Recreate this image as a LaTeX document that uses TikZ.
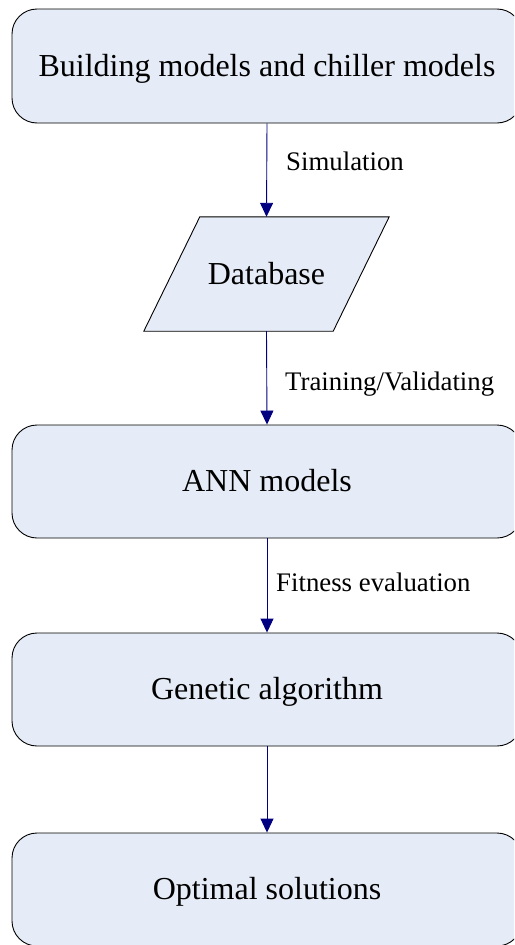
\documentclass[tikz,border=0pt]{standalone}
\usepackage{fontspec}
\setmainfont{Liberation Serif}
\usetikzlibrary{arrows.meta,backgrounds,calc}
\definecolor{boxfill}{RGB}{230,236,247}
\definecolor{flowline}{RGB}{0,0,128}
\begin{document}
\begin{tikzpicture}[x=1pt,y=-1pt,
  stage/.style={rectangle,rounded corners=25pt,draw=black,line width=0.9pt,fill=boxfill,
    minimum width=510pt,inner sep=0pt,text height=24pt,text depth=4pt,
    font=\fontsize{32}{38}\selectfont},
  dbtext/.style={rectangle,inner sep=0pt,minimum width=245pt,minimum height=114pt,
    text height=24pt,text depth=4pt,font=\fontsize{32}{38}\selectfont},
  flow/.style={draw=flowline,line width=0.9pt,-{Triangle[length=14pt,width=13pt]}},
  steplabel/.style={anchor=base west,inner sep=0pt,font=\fontsize{26.8}{31}\selectfont}]
\clip (0,0) rectangle (514,945);
% process stages
\node[stage,minimum height=114pt] (bld) at (267,66) {Building models and chiller models};
\node[dbtext] (db) at (266.5,274) {Database};
\node[stage,minimum height=113pt] (ann) at (267,481.5) {ANN models};
\node[stage,minimum height=113pt] (ga) at (267,689.5) {Genetic algorithm};
\node[stage,minimum height=113pt] (opt) at (267,889.5) {Optimal solutions};
% data store outline behind its label
\begin{scope}[on background layer]
\draw[line width=0.9pt,fill=boxfill] ($(db.north west)+(56,0)$) -- (db.north east)
  -- ($(db.south east)-(56,0)$) -- (db.south west) -- cycle;
\end{scope}
% connectors
\draw[flow] (bld.south) -- (db.north);
\draw[flow] (db.south) -- (ann.north);
\draw[flow] (ann.south) -- (ga.north);
\draw[flow] (ga.south) -- (opt.north);
% connector labels
\node[steplabel] (l1) at (286,170) {Simulation};
\node[steplabel] (l2) at (285,390) {Training/Validating};
\node[steplabel] (l3) at (276,591) {Fitness evaluation};
\end{tikzpicture}
\end{document}
